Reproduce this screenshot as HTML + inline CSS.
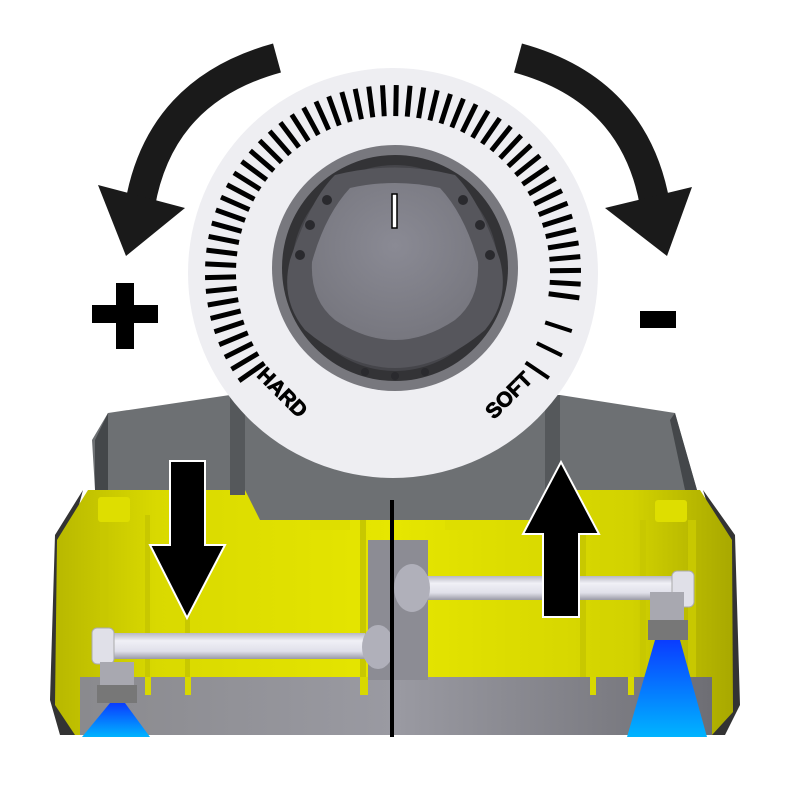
<!DOCTYPE html>
<html><head><meta charset="utf-8"><style>html,body{margin:0;padding:0;background:#fff}svg{display:block}</style></head>
<body>
<svg id="s" width="787" height="787" viewBox="0 0 787 787" xmlns="http://www.w3.org/2000/svg">
<defs>
<linearGradient id="yel" x1="0" x2="1" y1="0" y2="0"><stop offset="0" stop-color="#b8b800"/><stop offset="0.15" stop-color="#d9d900"/><stop offset="0.5" stop-color="#e6e600"/><stop offset="0.85" stop-color="#d2d200"/><stop offset="1" stop-color="#a8a800"/></linearGradient>
<linearGradient id="gb" x1="0" x2="1"><stop offset="0" stop-color="#8a8a8e"/><stop offset="0.5" stop-color="#9a9aa2"/><stop offset="1" stop-color="#6e6e74"/></linearGradient>
<linearGradient id="blue" x1="0" y1="0" x2="0" y2="1"><stop offset="0" stop-color="#0a3cff"/><stop offset="1" stop-color="#00b4ff"/></linearGradient>
<linearGradient id="pipe" x1="0" y1="0" x2="0" y2="1"><stop offset="0" stop-color="#b8b8c4"/><stop offset="0.3" stop-color="#f0f0f6"/><stop offset="0.7" stop-color="#e0e0ea"/><stop offset="1" stop-color="#9a9aa6"/></linearGradient>
<radialGradient id="knob" cx="0.5" cy="0.4" r="0.6"><stop offset="0" stop-color="#8a8a94"/><stop offset="1" stop-color="#77777f"/></radialGradient>
</defs>
<path d="M83,490 L55,535 L50,700 L60,735 L80,735 L75,520 Z" fill="#333"/>
<path d="M703,490 L735,535 L740,705 L725,735 L710,735 L712,520 Z" fill="#333"/>
<path d="M88,490 L700,490 L732,540 L733,712 L712,735 L75,735 L55,705 L57,540 Z" fill="url(#yel)"/>
<g fill="#c8c800">
<rect x="100" y="520" width="8" height="170"/><rect x="145" y="515" width="5" height="180"/><rect x="185" y="515" width="5" height="180"/><rect x="360" y="520" width="6" height="170"/>
<rect x="580" y="520" width="6" height="175"/><rect x="640" y="520" width="6" height="175"/><rect x="688" y="520" width="8" height="170"/>
</g>
<rect x="80" y="677" width="632" height="58" fill="url(#gb)"/>
<g fill="#d8d800"><rect x="145" y="677" width="6" height="18"/><rect x="185" y="677" width="6" height="18"/><rect x="360" y="677" width="8" height="18"/><rect x="590" y="677" width="6" height="18"/><rect x="628" y="677" width="6" height="18"/></g>
<rect x="368" y="540" width="60" height="140" fill="#8c8c94"/>
<path d="M108,413 L230,395 L560,395 L675,413 L697,490 L545,490 L535,520 L260,520 L245,490 L95,490 L92,440 Z" fill="#6d7073"/>
<path d="M545,395 L560,395 L560,495 L545,495 Z" fill="#55585b"/>
<path d="M230,395 L245,395 L245,495 L230,495 Z" fill="#55585b"/>
<path d="M95,440 L108,413 L108,490 L95,490Z" fill="#44474a"/>
<path d="M675,413 L697,490 L685,490 L670,420Z" fill="#44474a"/>
<g fill="#dede00"><rect x="98" y="497" width="32" height="25" rx="3"/><rect x="655" y="500" width="32" height="22" rx="3"/><rect x="310" y="520" width="40" height="10"/><rect x="445" y="520" width="40" height="10"/></g>
<rect x="95" y="633" width="270" height="26" fill="url(#pipe)"/>
<rect x="92" y="628" width="22" height="36" rx="5" fill="#e0e0e8" stroke="#aaa"/>
<rect x="100" y="662" width="34" height="30" fill="#a8a8b0"/><rect x="97" y="685" width="40" height="18" fill="#777"/>
<ellipse cx="378" cy="647" rx="16" ry="22" fill="#b0b0ba"/>
<rect x="425" y="576" width="260" height="24" fill="url(#pipe)"/>
<rect x="672" y="571" width="22" height="36" rx="5" fill="#e0e0e8" stroke="#aaa"/>
<rect x="650" y="592" width="34" height="40" fill="#a8a8b0"/><rect x="648" y="620" width="40" height="20" fill="#777"/>
<ellipse cx="412" cy="588" rx="18" ry="24" fill="#b0b0ba"/>
<path d="M110,703 L125,703 L150,737 L82,737Z" fill="url(#blue)"/>
<path d="M655,640 L680,640 L707,737 L627,737Z" fill="url(#blue)"/>
<rect x="390" y="500" width="4" height="237" fill="#000"/>
<path d="M170,461 L205,461 L205,545 L225,545 L187,618 L150,545 L170,545Z" fill="#000" stroke="#fff" stroke-width="2"/>
<path d="M561,462 L599,534 L579,534 L579,617 L543,617 L543,534 L523,534Z" fill="#000" stroke="#fff" stroke-width="2"/>
<circle cx="393" cy="273" r="205" fill="#eeeef2"/>
<g id="ticks" fill="#000"></g>
<text x="0" y="0" font-family="Liberation Sans, sans-serif" font-weight="bold" font-size="21" stroke="#000" stroke-width="0.8" transform="translate(256,376) rotate(45)">HARD</text>
<text x="0" y="0" font-family="Liberation Sans, sans-serif" font-weight="bold" font-size="21" stroke="#000" stroke-width="0.8" transform="translate(494,420) rotate(-45)">SOFT</text>
<circle cx="395" cy="268" r="123" fill="#78787e"/>
<circle cx="395" cy="268" r="113" fill="#333336"/>
<circle cx="395" cy="268" r="103" fill="#45454a"/>
<path d="M335,175 Q395,160 455,175 Q480,200 500,260 Q510,300 485,330 Q440,368 395,368 Q350,368 305,330 Q280,300 290,260 Q310,200 335,175Z" fill="#56565c"/>
<path d="M350,188 Q395,178 440,188 Q465,215 478,262 Q480,300 455,320 Q425,340 395,340 Q365,340 335,320 Q310,300 312,262 Q325,215 350,188Z" fill="url(#knob)"/>
<rect x="392" y="194" width="5" height="34" fill="#fff" stroke="#000" stroke-width="1.5"/>
<g fill="#2a2a2e"><circle cx="327" cy="200" r="5"/><circle cx="310" cy="225" r="5"/><circle cx="300" cy="255" r="5"/><circle cx="463" cy="200" r="5"/><circle cx="480" cy="225" r="5"/><circle cx="490" cy="255" r="5"/><circle cx="365" cy="372" r="4"/><circle cx="395" cy="376" r="4"/><circle cx="425" cy="372" r="4"/></g>
<path d="M277,58 Q160,90 140,205" fill="none" stroke="#1a1a1a" stroke-width="30"/>
<path d="M98,185 L185,208 L126,256Z" fill="#1a1a1a"/>
<path d="M518,58 Q635,90 655,205" fill="none" stroke="#1a1a1a" stroke-width="30"/>
<path d="M605,208 L692,187 L667,256Z" fill="#1a1a1a"/>
<rect x="92" y="305" width="66" height="18" fill="#000"/><rect x="116" y="283" width="18" height="66" fill="#000"/>
<rect x="640" y="311" width="36" height="17" fill="#000"/>
</svg>
<script>
var g=document.getElementById('ticks'),cx=393,cy=273,s='';
for(var a=-125;a<=100;a+=4.2){
 s+='<rect x="-2.5" y="-188" width="5" height="31" transform="translate('+cx+','+cy+') rotate('+a+')"/>';}
[108,116,124].forEach(function(a){s+='<rect x="-2" y="-188" width="4" height="28" transform="translate('+cx+','+cy+') rotate('+a+')"/>';});
g.innerHTML=s;
</script>
</body></html>
